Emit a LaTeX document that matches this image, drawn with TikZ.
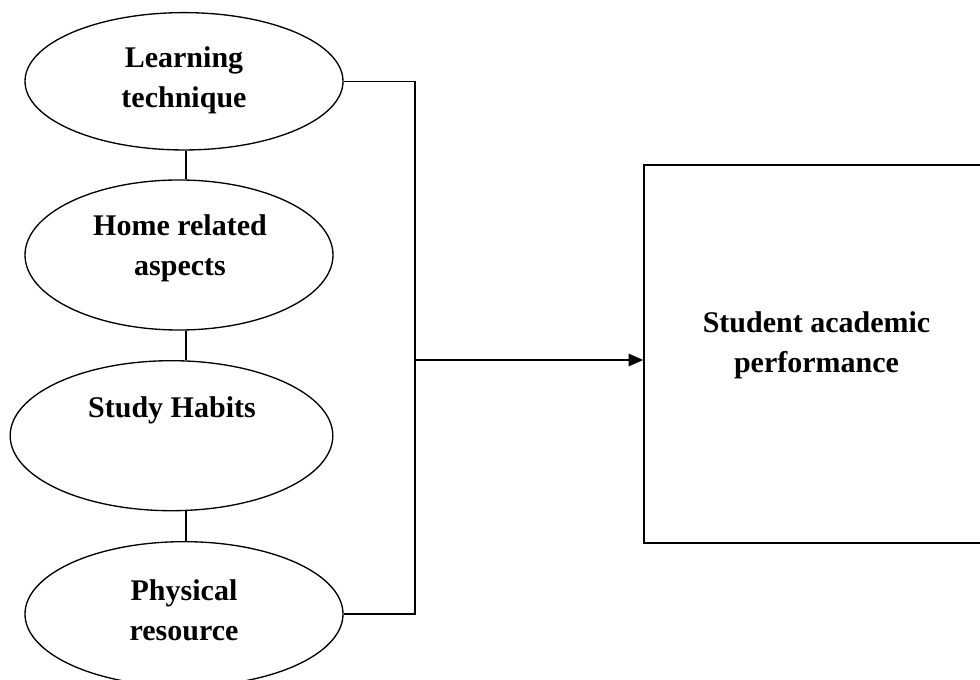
\documentclass[tikz,border=0pt]{standalone}
\usepackage{fontspec}
\setmainfont{Liberation Serif}
\usetikzlibrary{arrows.meta,positioning,shapes.geometric}

\begin{document}
\begin{tikzpicture}[x=0.75pt, y=-0.75pt,
            factor/.style={ellipse, draw, line width=1pt, inner sep=0pt},
            result/.style={rectangle, draw, line width=1pt, inner sep=0pt, minimum width=259.5pt, minimum height=283.5pt},
            lbl/.style={font=\bfseries\fontsize{22.5}{30}\selectfont, align=center, inner sep=0pt},
            link/.style={draw, line width=1pt},
            arrow/.style={link, -{Triangle[length=11pt, width=9.5pt]}}
        ]
        \clip (0,0) rectangle (980,680);
        \node[factor, minimum width=238.5pt, minimum height=103pt] (learn) at (184, 81.3) {};
        \node[factor, minimum width=231pt, minimum height=112.5pt] (home) at (179, 255) {};
        \node[factor, minimum width=242pt, minimum height=112.5pt] (habit) at (171.5, 435.7) {};
        \node[factor, minimum width=238.5pt, minimum height=108.5pt] (phys) at (184, 614) {};
        \node[result] (perf) at (816.85, 354) {};

        \node[lbl] (learnlbl) at (184, 80) {Learning\\technique};
        \node[lbl] (homelbl) at (180, 248) {Home related\\aspects};
        \node[lbl] (habitlbl) at (172, 410) {Study Habits};
        \node[lbl] (physlbl) at (184, 610) {Physical\\resource};
        \node[lbl] (perflbl) at (816.5, 345) {Student academic\\performance};

        \coordinate (tie) at (186, 0);
        \coordinate (jtop) at (415, 81.3);
        \coordinate (jmid) at (415, 360);
        \coordinate (jbot) at (415, 614);

        \draw[link] (tie |- learn.south) -- (tie |- home.north);
        \draw[link] (tie |- home.south) -- (tie |- habit.north);
        \draw[link] (tie |- habit.south) -- (tie |- phys.north);
        \draw[link] (learn.east) -- (jtop) -- (jbot) -- (phys.east);
        \draw[arrow] (jmid) -- (jmid -| perf.west);
\end{tikzpicture}
\end{document}
